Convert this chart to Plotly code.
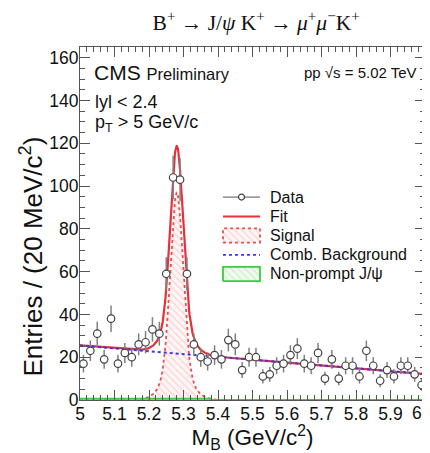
import numpy as np
import plotly.graph_objects as go

# ---- data ----
bin_centers = [round(5.01 + 0.02 * i, 2) for i in range(50)]
counts = [17, 23, 31, 19, 38, 17, 22, 20, 26, 27, 33, 31, 59, 104, 103, 59,
          26, 20, 18, 21, 19, 28, 26, 14, 20, 20, 11, 12, 16, 17, 21, 24, 17,
          16, 22, 10, 19, 10, 16, 16, 11, 23, 16, 9, 14, 11, 16, 16, 12, 7]
errors = [float(np.sqrt(c)) for c in counts]

# fit model parameters
bkg_at_5 = 25.5
bkg_slope = -13.4
sig_mean = 5.2805
sig_narrow_amp, sig_narrow_sigma = 83.0, 0.018
sig_wide_amp, sig_wide_sigma = 14.0, 0.038
nonprompt_level = 0.6
nonprompt_end = 5.38

x_ticks = [5.0, 5.1, 5.2, 5.3, 5.4, 5.5, 5.6, 5.7, 5.8, 5.9, 6.0]
x_tick_labels = ["5", "5.1", "5.2", "5.3", "5.4", "5.5", "5.6", "5.7", "5.8", "5.9", "6"]
y_ticks = [0, 20, 40, 60, 80, 100, 120, 140, 160]

legend_labels = ["Data", "Fit", "Signal", "Comb. Background", "Non-prompt J/\u03c8"]

mgrid = np.linspace(5.0, 6.0, 801)
bkg = bkg_at_5 + bkg_slope * (mgrid - 5.0)
sig = (sig_narrow_amp * np.exp(-0.5 * ((mgrid - sig_mean) / sig_narrow_sigma) ** 2)
       + sig_wide_amp * np.exp(-0.5 * ((mgrid - sig_mean) / sig_wide_sigma) ** 2))
fit = bkg + sig
nonprompt = np.where(mgrid <= nonprompt_end, nonprompt_level, 0.0)

FONT = "Liberation Sans, Arial, Helvetica, sans-serif"
GRAY = "#555555"
RED = "#e8303a"
SIG_LINE = "rgba(232,60,60,0.9)"
BLUE = "#3a3ae0"
GREEN = "#3dcc3d"
SIG_PATTERN = dict(shape="\\", fgcolor="rgba(238,120,120,0.7)",
                   bgcolor="rgba(255,236,236,0.5)", size=5, solidity=0.2)
NP_PATTERN = dict(shape="\\", fgcolor="rgba(110,200,110,0.7)",
                  bgcolor="rgba(225,248,225,0.5)", size=5, solidity=0.2)

fig = go.Figure()

# signal (hatched, dotted outline)
fig.add_trace(go.Scatter(
    x=mgrid, y=sig, mode="lines", showlegend=False,
    line=dict(color=SIG_LINE, width=1.8, dash="dot"),
    fill="tozeroy", fillpattern=SIG_PATTERN,
))
# non-prompt J/psi
fig.add_trace(go.Scatter(
    x=mgrid, y=nonprompt, mode="lines", showlegend=False,
    line=dict(color=GREEN, width=2),
    fill="tozeroy", fillpattern=NP_PATTERN,
))
# fit
fig.add_trace(go.Scatter(
    x=mgrid, y=fit, mode="lines", showlegend=False,
    line=dict(color=RED, width=2.2),
))
# background
fig.add_trace(go.Scatter(
    x=mgrid, y=bkg, mode="lines", showlegend=False,
    line=dict(color=BLUE, width=2, dash="dot"),
))
# data
fig.add_trace(go.Scatter(
    x=bin_centers, y=counts, mode="markers", showlegend=False,
    marker=dict(symbol="circle", size=7.5, color="white", line=dict(width=1.2, color="#444444")),
    error_y=dict(type="data", array=errors, visible=True, color="#808080",
                 thickness=1.5, width=0),
))

# ---- manual legend on an overlay axis in plot-fraction units ----
lx0, lx1, ltext = 0.4145, 0.5217, 0.545
ly = [0.575, 0.52, 0.466, 0.411, 0.357]
box_h = 0.02

fig.add_trace(go.Scatter(x=[lx0, lx1], y=[ly[0], ly[0]], mode="lines", xaxis="x2", yaxis="y2",
                         showlegend=False, hoverinfo="skip",
                         line=dict(color="#777777", width=1.2)))
fig.add_trace(go.Scatter(x=[(lx0 + lx1) / 2], y=[ly[0]], mode="markers", xaxis="x2", yaxis="y2",
                         showlegend=False, hoverinfo="skip",
                         marker=dict(symbol="circle", size=6, color="white",
                                     line=dict(width=1.2, color="#444444"))))
fig.add_trace(go.Scatter(x=[lx0, lx1], y=[ly[1], ly[1]], mode="lines", xaxis="x2", yaxis="y2",
                         showlegend=False, hoverinfo="skip", line=dict(color=RED, width=2)))
fig.add_trace(go.Scatter(x=[lx0, lx1, lx1, lx0, lx0],
                         y=[ly[2] - box_h, ly[2] - box_h, ly[2] + box_h, ly[2] + box_h, ly[2] - box_h],
                         mode="lines", xaxis="x2", yaxis="y2", showlegend=False, hoverinfo="skip",
                         line=dict(color=SIG_LINE, width=1.8, dash="dot"),
                         fill="toself", fillpattern=SIG_PATTERN))
fig.add_trace(go.Scatter(x=[lx0, lx1], y=[ly[3], ly[3]], mode="lines", xaxis="x2", yaxis="y2",
                         showlegend=False, hoverinfo="skip",
                         line=dict(color=BLUE, width=1.6, dash="dot")))
fig.add_trace(go.Scatter(x=[lx0, lx1, lx1, lx0, lx0],
                         y=[ly[4] - box_h, ly[4] - box_h, ly[4] + box_h, ly[4] + box_h, ly[4] - box_h],
                         mode="lines", xaxis="x2", yaxis="y2", showlegend=False, hoverinfo="skip",
                         line=dict(color=GREEN, width=1.8),
                         fill="toself", fillpattern=NP_PATTERN))
for lab, yy in zip(legend_labels, ly):
    fig.add_annotation(xref="paper", yref="paper", x=ltext, y=yy, xanchor="left", yanchor="middle",
                       text=lab, showarrow=False, font=dict(family=FONT, size=16, color="#111111"))

axis_common = dict(
    showline=True, linecolor=GRAY, linewidth=1, mirror="ticks",
    ticks="inside", ticklen=10, tickcolor=GRAY, tickwidth=1,
    showgrid=False, zeroline=False, automargin=False,
    tickfont=dict(family=FONT, size=17.5, color="#111111"),
)

# last x label ("6") sits at the very edge; drawn as an annotation below
x_axis_text = x_tick_labels[:-1] + [""]

xaxis = dict(
    range=[5.0, 6.0], tickmode="array", tickvals=x_ticks, ticktext=x_axis_text,
    ticklabeloverflow="allow", ticklabelstandoff=-2,
    minor=dict(dtick=0.02, ticks="inside", ticklen=5, tickcolor=GRAY, showgrid=False),
    title=dict(text="M<sub>B</sub> (GeV/c<sup>2</sup>)",
               font=dict(family=FONT, size=22.5, color="#111111"), standoff=3),
    **axis_common,
)
yaxis = dict(
    range=[0, 165], tickmode="array", tickvals=y_ticks,
    ticklabelstandoff=-3,
    minor=dict(dtick=5, ticks="inside", ticklen=5, tickcolor=GRAY, showgrid=False),
    **axis_common,
)

# figure is placed with an 8 px page margin, so size/margins are compensated
fig.update_layout(
    xaxis=xaxis, yaxis=yaxis,
    xaxis2=dict(overlaying="x", range=[0, 1], visible=False, fixedrange=True),
    yaxis2=dict(overlaying="y", range=[0, 1], visible=False, fixedrange=True),
    width=422, height=445,
    margin=dict(l=72, r=5, t=39, b=53),
    paper_bgcolor="white", plot_bgcolor="white",
    font=dict(family=FONT, color="#111111"),
    title=dict(
        text="B<sup>+</sup> \u2192 J/<i>\u03c8</i> K<sup>+</sup> \u2192 <i>\u03bc</i><sup>+</sup><i>\u03bc</i><sup>\u2212</sup>K<sup>+</sup>",
        font=dict(family="Liberation Serif, Times New Roman, serif", size=21.5, color="#111111"),
        x=0.588, xanchor="center", y=0.967, yanchor="middle",
    ),
    showlegend=False,
)

fig.add_annotation(xref="x", yref="paper", x=x_ticks[-1], y=0, xanchor="right", yanchor="top",
                   xshift=-1, yshift=-1, text=x_tick_labels[-1], showarrow=False,
                   font=dict(family=FONT, size=17.5, color="#111111"))

# y axis title (sits below the axis centre in the reference)
fig.add_annotation(xref="paper", yref="paper", x=0, y=0.4065, xshift=-48,
                   xanchor="center", yanchor="middle", textangle=-90,
                   text="Entries / (20 MeV/c<sup>2</sup>)", showarrow=False,
                   font=dict(family=FONT, size=26, color="#111111"))

fig.add_annotation(xref="paper", yref="paper", x=0.036, y=0.929, xanchor="left", yanchor="middle",
                   text="CMS <span style='font-size:16.5px'>Preliminary</span>",
                   showarrow=False, font=dict(family=FONT, size=21, color="#111111"))
fig.add_annotation(xref="paper", yref="paper", x=0.644, y=0.929, xanchor="left", yanchor="middle",
                   text="pp \u221as = 5.02 TeV",
                   showarrow=False, font=dict(family=FONT, size=15, color="#111111"))
fig.add_annotation(xref="paper", yref="paper", x=0.038, y=0.844, xanchor="left", yanchor="middle",
                   text="lyl < 2.4",
                   showarrow=False, font=dict(family=FONT, size=18, color="#111111"))
fig.add_annotation(xref="paper", yref="paper", x=0.038, y=0.782, xanchor="left", yanchor="middle",
                   text="p<sub>T</sub> > 5 GeV/c",
                   showarrow=False, font=dict(family=FONT, size=18, color="#111111"))

fig.write_html("out.html")
